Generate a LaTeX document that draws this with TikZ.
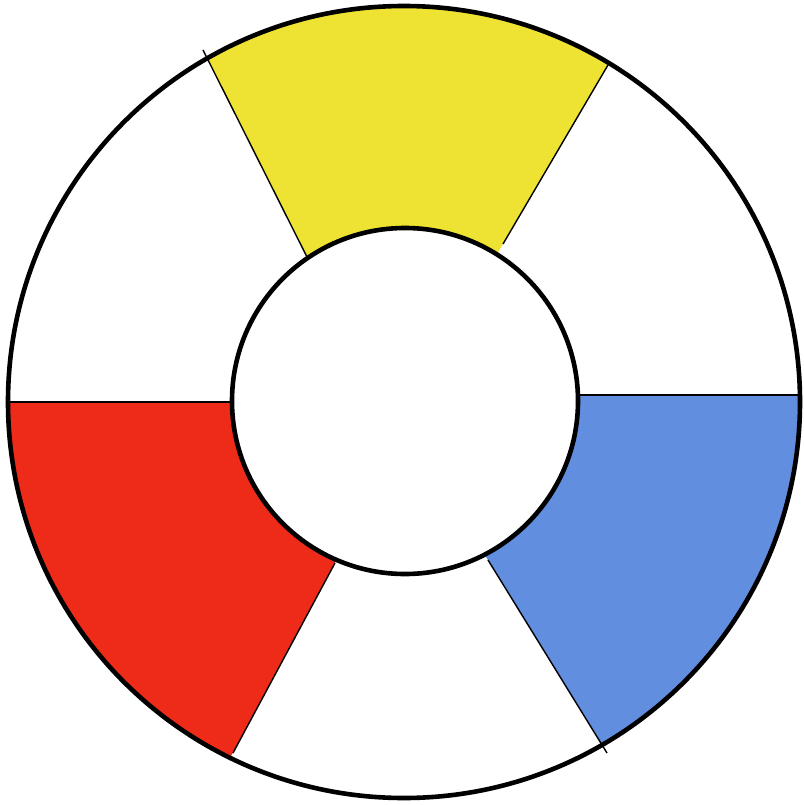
\documentclass[tikz,border=0pt]{standalone}
\begin{document}
\begin{tikzpicture}[x=1pt,y=-1pt,
  ring/.style={draw=black,line width=4.6pt},
  divider/.style={draw=black,line width=1.4pt}]
\definecolor{wyellow}{RGB}{238,226,50}
\definecolor{wblue}{RGB}{98,142,224}
\definecolor{wred}{RGB}{238,42,24}
\useasboundingbox (0,0) rectangle (803,805);
\fill[white] (0,0) rectangle (803,805);
% centres
\coordinate (oc) at (404,402);
\coordinate (ic) at (405,401);
% divider end points
\coordinate (tlA) at (203,50);  \coordinate (tlB) at (307,257);
\coordinate (trA) at (608,65);  \coordinate (trB) at (503,244);
\coordinate (rA) at (580,395);  \coordinate (rB) at (800,395);
\coordinate (brA) at (488,560); \coordinate (brB) at (607,753);
\coordinate (blA) at (335,563); \coordinate (blB) at (233,753);
\coordinate (lA) at (10,402);   \coordinate (lB) at (231,402);
% coloured sectors clipped to the outer circle
\begin{scope}
  \clip (oc) circle (396);
  \fill[wyellow] (172,-12) -- (640,11) -- (440,351) -- (359,360) -- cycle;
  \fill[wblue] (450,396) -- (850,396) -- (850,900) -- (643,811) -- (428,463) -- cycle;
  \fill[wred] (-50,403) -- (380,403) -- (386,468) -- (202,810) -- (-50,900) -- cycle;
\end{scope}
% dividers
\draw[divider] (tlA) -- (tlB);
\draw[divider] (trA) -- (trB);
\draw[divider] (rA) -- (rB);
\draw[divider] (brA) -- (brB);
\draw[divider] (blA) -- (blB);
\draw[divider] (lA) -- (lB);
% rings
\draw[ring] (oc) circle (396);
\draw[ring,fill=white] (ic) circle (173);
\end{tikzpicture}
\end{document}
